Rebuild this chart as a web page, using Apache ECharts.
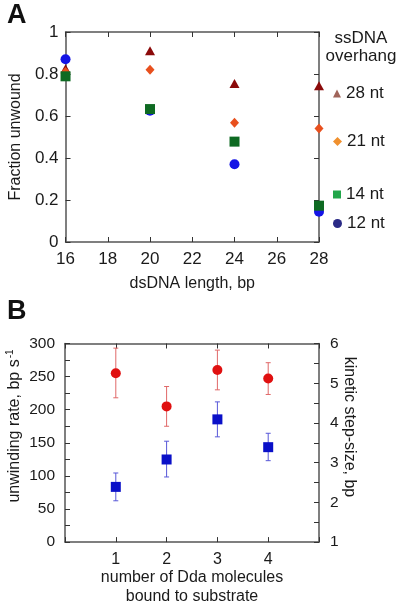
<!DOCTYPE html>
<html>
<head>
<meta charset="utf-8">
<script src="https://cdn.jsdelivr.net/npm/echarts@6/dist/echarts.min.js"></script>
<style>html,body{margin:0;padding:0;background:#fff}#c{width:400px;height:607px}</style>
</head>
<body>
<div id="c"></div>
<script>
// ---- Panel A data ----
var lengthsA = [16, 20, 24, 28];
var nt28 = [0.825, 0.911, 0.755, 0.744];
var nt21 = [0.81, 0.82, 0.568, 0.54];
var nt14 = [0.789, 0.633, 0.478, 0.173];
var nt12 = [0.87, 0.625, 0.37, 0.144];
var legendNamesA = ['28 nt', '21 nt', '14 nt', '12 nt'];

// ---- Panel B data ----
var molecules = [1, 2, 3, 4];
var rate = [255, 205, 260, 247];
var rateLow = [218, 175, 230, 223];
var rateHigh = [293, 235, 290, 271];
var step = [2.39, 3.08, 4.09, 3.39];
var stepLow = [2.04, 2.64, 3.65, 3.05];
var stepHigh = [2.74, 3.54, 4.53, 3.74];

var FONT = 'Liberation Sans, Arial, Helvetica, sans-serif';
var TXT = '#1a1a1a';
var AX = '#555';

function pairs(xs, ys) { return xs.map(function (x, i) { return [x, ys[i]]; }); }
function bars(xs, lo, hi) { return xs.map(function (x, i) { return [x, lo[i], hi[i]]; }); }

function errRender(color) {
  return function (params, api) {
    var x = api.value(0);
    var p1 = api.coord([x, api.value(1)]);
    var p2 = api.coord([x, api.value(2)]);
    var w = 2.5;
    var st = { stroke: color, lineWidth: 1 };
    return {
      type: 'group',
      children: [
        { type: 'line', shape: { x1: p1[0], y1: p1[1], x2: p2[0], y2: p2[1] }, style: st },
        { type: 'line', shape: { x1: p1[0] - w, y1: p1[1], x2: p1[0] + w, y2: p1[1] }, style: st },
        { type: 'line', shape: { x1: p2[0] - w, y1: p2[1], x2: p2[0] + w, y2: p2[1] }, style: st }
      ]
    };
  };
}

var axLine = { show: true, onZero: false, lineStyle: { color: AX, width: 1.5 } };
var tick = { show: true, inside: true, length: 5, lineStyle: { color: '#333', width: 1 } };
var lbl = { color: TXT, fontSize: 17, fontFamily: FONT };

function legendItem(name, icon, color, top, size) {
  return {
    selectedMode: false, orient: 'vertical', left: 328, top: top,
    itemWidth: size, itemHeight: size,
    textStyle: { color: TXT, fontSize: 17, fontFamily: FONT },
    data: [{ name: name, icon: icon, itemStyle: { color: color } }]
  };
}

var chart = echarts.init(document.getElementById('c'), null, { renderer: 'canvas' });
chart.setOption({
  animation: false,
  backgroundColor: '#fff',
  grid: [
    { left: 65, top: 32, width: 254, height: 210 },
    { left: 65, top: 343.5, width: 254, height: 202.5 }
  ],
  legend: [
    legendItem(legendNamesA[0], 'triangle', '#a0645a', 80, 8),
    legendItem(legendNamesA[1], 'diamond', '#f0902e', 128, 9),
    legendItem(legendNamesA[2], 'rect', '#22a64a', 181, 8),
    legendItem(legendNamesA[3], 'circle', '#2a2a86', 210, 9)
  ],
  xAxis: [
    { gridIndex: 0, type: 'value', position: 'bottom', min: 16, max: 28, interval: 2,
      axisLine: axLine, axisTick: tick, splitLine: { show: false },
      axisLabel: Object.assign({ margin: 9 }, lbl),
      name: 'dsDNA length, bp', nameLocation: 'middle', nameGap: 34,
      nameTextStyle: { color: TXT, fontSize: 16, fontFamily: FONT } },
    { gridIndex: 0, type: 'value', position: 'top', min: 16, max: 28, interval: 2,
      axisLine: axLine, axisTick: tick, splitLine: { show: false }, axisLabel: { show: false } },
    { gridIndex: 1, type: 'value', position: 'bottom', min: 0, max: 5, interval: 1,
      axisLine: axLine, axisTick: tick, splitLine: { show: false },
      axisLabel: Object.assign({ margin: 9, formatter: function (v) { return (v >= 1 && v <= 4) ? String(v) : ''; } }, lbl, { fontSize: 16 }),
      name: 'number of Dda molecules\nbound to substrate', nameLocation: 'middle', nameGap: 24,
      nameTextStyle: { color: TXT, fontSize: 16, fontFamily: FONT, lineHeight: 19 } },
    { gridIndex: 1, type: 'value', position: 'top', min: 0, max: 5, interval: 1,
      axisLine: axLine, axisTick: tick, splitLine: { show: false }, axisLabel: { show: false } }
  ],
  yAxis: [
    { gridIndex: 0, type: 'value', position: 'left', min: 0, max: 1, interval: 0.2,
      axisLine: axLine, axisTick: tick, splitLine: { show: false },
      axisLabel: Object.assign({ margin: 7 }, lbl),
      name: 'Fraction unwound', nameLocation: 'middle', nameGap: 38,
      nameTextStyle: { color: TXT, fontSize: 16, fontFamily: FONT } },
    { gridIndex: 0, type: 'value', position: 'right', min: 0, max: 1, interval: 0.2,
      axisLine: axLine, axisTick: tick, splitLine: { show: false }, axisLabel: { show: false } },
    { gridIndex: 1, type: 'value', position: 'left', min: 0, max: 300, interval: 25,
      axisLine: axLine, axisTick: tick, splitLine: { show: false },
      axisLabel: Object.assign({ margin: 10, formatter: function (v) { return v % 50 === 0 ? String(v) : ''; } }, lbl, { fontSize: 15.5 }) },
    { gridIndex: 1, type: 'value', position: 'right', min: 1, max: 6, interval: 0.5,
      axisLine: axLine, axisTick: tick, splitLine: { show: false },
      axisLabel: Object.assign({ margin: 11, formatter: function (v) { return v % 1 === 0 ? String(v) : ''; } }, lbl, { fontSize: 15.5 }) }
  ],
  series: [
    { name: legendNamesA[3], type: 'scatter', xAxisIndex: 0, yAxisIndex: 0, symbol: 'circle', symbolSize: 10,
      itemStyle: { color: '#1414e6', opacity: 1 }, data: pairs(lengthsA, nt12) },
    { name: legendNamesA[0], type: 'scatter', xAxisIndex: 0, yAxisIndex: 0, symbol: 'triangle', symbolSize: [10, 9],
      itemStyle: { color: '#8b0a0a', opacity: 1 }, data: pairs(lengthsA, nt28) },
    { name: legendNamesA[1], type: 'scatter', xAxisIndex: 0, yAxisIndex: 0, symbol: 'diamond', symbolSize: [9, 10],
      itemStyle: { color: '#e8501e', opacity: 1 }, data: pairs(lengthsA, nt21) },
    { name: legendNamesA[2], type: 'scatter', xAxisIndex: 0, yAxisIndex: 0, symbol: 'rect', symbolSize: 10,
      itemStyle: { color: '#0e6a22', opacity: 1 }, data: pairs(lengthsA, nt14) },

    { type: 'custom', xAxisIndex: 2, yAxisIndex: 2, renderItem: errRender('#e06868'),
      data: bars(molecules, rateLow, rateHigh), z: 1 },
    { type: 'custom', xAxisIndex: 2, yAxisIndex: 3, renderItem: errRender('#5858d8'),
      data: bars(molecules, stepLow, stepHigh), z: 1 },
    { type: 'scatter', xAxisIndex: 2, yAxisIndex: 2, symbol: 'circle', symbolSize: 10,
      itemStyle: { color: '#e01010', opacity: 1 }, data: pairs(molecules, rate), z: 3 },
    { type: 'scatter', xAxisIndex: 2, yAxisIndex: 3, symbol: 'rect', symbolSize: 10,
      itemStyle: { color: '#0a10c8', opacity: 1 }, data: pairs(molecules, step), z: 3 }
  ],
  graphic: [
    { type: 'text', x: 7, y: 16, style: { text: 'A', font: 'bold 27px ' + FONT, fill: '#111', verticalAlign: 'middle' } },
    { type: 'text', x: 7, y: 312, style: { text: 'B', font: 'bold 27px ' + FONT, fill: '#111', verticalAlign: 'middle' } },
    { type: 'text', x: 361, y: 47, style: { text: 'ssDNA\noverhang', font: '17px ' + FONT, fill: TXT,
      align: 'center', verticalAlign: 'middle', lineHeight: 18 } },
    { type: 'text', x: 15, y: 426, rotation: Math.PI / 2,
      style: { text: 'unwinding rate, bp s{sup|-1}', font: '16px ' + FONT, fill: TXT, align: 'center', verticalAlign: 'middle',
        rich: { sup: { fontSize: 10, fontFamily: FONT, fill: TXT, padding: [0, 0, 9, 1] } } } },
    { type: 'text', x: 349, y: 427, rotation: -Math.PI / 2,
      style: { text: 'kinetic step-size, bp', font: '16px ' + FONT, fill: TXT, align: 'center', verticalAlign: 'middle' } }
  ]
});
</script>
</body>
</html>
